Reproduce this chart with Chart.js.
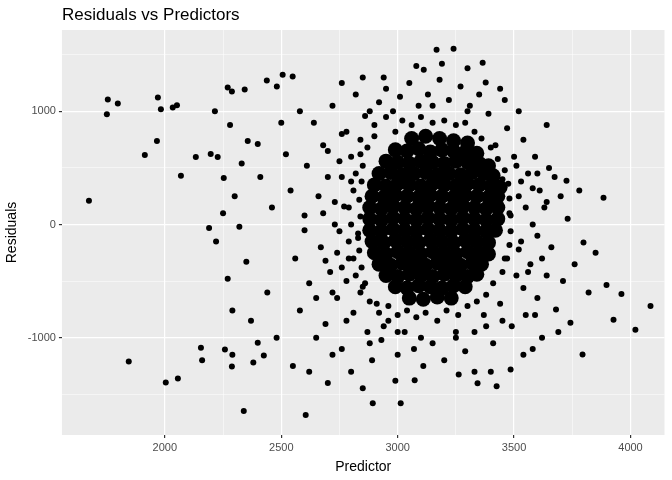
<!DOCTYPE html>
<html>
<head>
<meta charset="utf-8">
<script src="https://cdn.jsdelivr.net/npm/chart.js@4"></script>
<style>
body { margin: 0; background: #fff; }
#wrap { width: 672px; height: 480px; position: relative; }
#title { position: absolute; left: 62px; top: 5px; font: 17px "Liberation Sans", Arial, sans-serif; color: #000; }
</style>
</head>
<body>
<div id="wrap"><div id="title">Residuals vs Predictors</div><canvas id="chart" width="672" height="480"></canvas></div>
<script>
// sparse points
const outliers = [
  [1674,210],[1751,974],[1755,1105],[1798,1070],[1914,614],[1966,737],[1970,1123],[1983,1018],
  [2034,1035],[2052,1053],[2069,430],[1845,-1210],[2004,-1395],[2056,-1360],[2133,596],[2197,623],
  [2215,1000],[2227,596],[2253,412],[2270,1210],[2288,1175],[2343,1193],[2356,737],[2399,711],
  [2438,1272],[2481,1219],[2506,1324],[2549,1307],[2339,-1649],[2605,-1684],[2155,-1088],[2258,-1105],
  [2288,-1254],[2425,-1158],[2399,-1044],[4086,-719],[4021,-930],[3961,-614],[3927,-842],[3897,-535],
  [3798,-158],[3884,237],[3794,-1149],[3742,-868],[3725,386],[3674,421],[3167,1544],[3240,1553],
  [3112,1368],[3365,1430],[3378,1254],[3013,-1579],[2893,-1579],[2850,-1447],[3073,-1377],[3262,-1325],
  [3343,-1403],[3425,-1430],[3485,-1281],[2270,-480],[2290,-760],[2250,100],[2300,250],[2320,-20],
  [2350,-330],[2370,-850],[2290,-1150],[2410,420],[2440,-600],[2460,150],[2480,-1000],[2330,540],
  [2280,880],[2220,-150],[2380,-1220],[2500,900],[2160,-1200],[2190,-30]
];
// medium density band around the core
const ring = [
  [2520,620],[2540,300],[2560,-300],[2580,-760],[2600,80],[2610,520],[2620,-520],[2640,900],[2650,-1000],
  [2660,250],[2670,-200],[2680,700],[2690,-880],[2700,420],[2710,-420],[2720,1050],[2730,0],[2740,-650],
  [2750,560],[2760,-1100],[2770,160],[2780,820],[2790,-300],[2800,380],[2810,-780],[2820,1150],[2830,-120],
  [2840,620],[2850,-550],[2860,960],[2870,-950],[2880,250],[2890,-1200],[2900,780],[2910,-700],[2920,1080],
  [2930,-1020],[2950,1200],[2960,-850],[2980,1000],[3000,-1150],[3010,1130],[3030,-950],[3050,1250],
  [3070,-1100],[3090,1050],[3110,-1250],[3130,1150],[3150,-1050],[3180,1280],[3200,-1200],[3220,1100],
  [3250,-1000],[3270,1220],[3290,-1120],[3310,1050],[3330,-950],[3350,1150],[3370,-800],[3390,980],
  [3410,-1050],[3420,700],[3440,-700],[3450,400],[3460,-300],[3470,850],[3480,100],[3490,-900],[3500,600],
  [3510,-450],[3520,250],[3530,-150],[3540,750],[3550,-800],[3560,450],[3570,-350],[3580,0],[3590,600],
  [3600,-650],[3610,300],[3620,-1000],[3630,150],[3640,-450],[3650,500],[3660,-200],[3680,-750],
  [3700,250],[3710,-500],[3730,50],[3760,-350],[3780,300],[3820,-600],[3850,-250],[2550,-1250],
  [2580,1000],[2620,-1300],[2700,-1400],[2760,1250],[2800,-1300],[2940,1300],[2990,-1380],[3080,1400],
  [3190,1420],[3300,1380],[3330,-1300],[3440,1200],[3520,1000],[3580,-1100],[3640,880],[3690,-950],
  [2600,-50],[2650,-650],[2720,-1150],[2780,-500],[2850,1300],[3400,-1300],[3460,1100],[3540,-1150]
];
// dense fringe just outside the core
const fringe = [
  [2800,600],[2820,450],[2810,300],[2790,150],[2800,0],[2790,-150],[2810,-300],[2820,-450],[2840,-600],
  [2840,750],[2850,520],[2845,380],[2835,220],[2840,70],[2830,-80],[2835,-230],[2845,-380],[2860,-520],
  [2870,680],[2880,-680],[2900,880],[2920,-780],[2950,950],[2960,-720],[2990,820],[3000,-800],[3020,920],
  [3040,-760],[3060,880],[3080,-820],[3100,950],[3120,-780],[3150,900],[3170,-850],[3200,920],[3210,-760],
  [3250,880],[3260,-800],[3290,900],[3300,-720],[3330,820],[3340,-680],[3360,760],[3380,-620],[3400,680],
  [3410,-520],[3430,580],[3450,-420],[3460,480],[3470,-300],[3475,360],[3480,-180],[3480,230],[3485,-60],
  [3485,80],[3510,520],[3520,-220],[3530,380],[3540,-560],[3550,150],[3560,-420],[3580,320],[3600,-100],
  [2760,420],[2750,-60],[2760,-380],[2730,200],[2740,-250],[2700,650],[2720,-600],[2680,100],[2690,-320],
  [3620,-300],[3640,200],[3600,450],[3590,-800],[2760,800],[2780,-850],[2880,1000],[3150,1050],[3300,1000],
  [3450,-850],[3000,-950],[3250,-950],[3100,-1000],[2940,-900],[2880,-1050],[3380,-900]
];
// solid core of the cloud
const core = [
  [3060,760],[3120,780],[3180,760],[3240,740],[3300,720],
  [2990,660],[3040,650],[3090,670],[3140,640],[3190,660],[3240,650],[3290,640],[3340,630],
  [2950,560],[3000,550],[3050,540],[3100,560],[3150,550],[3200,540],[3250,560],[3300,550],[3350,540],[3390,520],
  [2920,450],[2970,460],[3020,440],[3070,450],[3120,460],[3170,440],[3220,450],[3270,440],[3320,460],[3370,450],[3410,430],
  [2900,350],[2950,340],[3000,360],[3050,350],[3100,340],[3150,360],[3200,350],[3250,340],[3300,360],[3350,350],[3400,340],[3440,330],
  [2890,250],[2940,240],[2990,260],[3040,250],[3090,240],[3140,260],[3190,250],[3240,240],[3290,260],[3340,250],[3390,240],[3430,250],
  [2880,150],[2930,140],[2980,160],[3030,150],[3080,140],[3130,160],[3180,150],[3230,140],[3280,160],[3330,150],[3380,140],[3430,150],
  [2880,50],[2930,40],[2980,60],[3030,50],[3080,40],[3130,60],[3180,50],[3230,40],[3280,60],[3330,50],[3380,40],[3430,50],
  [2880,-50],[2930,-60],[2980,-40],[3030,-50],[3080,-60],[3130,-40],[3180,-50],[3230,-60],[3280,-40],[3330,-50],[3380,-60],[3420,-50],
  [2890,-150],[2940,-160],[2990,-140],[3040,-150],[3090,-160],[3140,-140],[3190,-150],[3240,-160],[3290,-140],[3340,-150],[3390,-160],
  [2900,-250],[2950,-260],[3000,-240],[3050,-250],[3100,-260],[3150,-240],[3200,-250],[3250,-260],[3300,-240],[3350,-250],[3390,-260],
  [2920,-350],[2970,-360],[3020,-340],[3070,-350],[3120,-360],[3170,-340],[3220,-350],[3270,-360],[3320,-340],[3360,-350],
  [2950,-450],[3000,-460],[3050,-440],[3100,-450],[3150,-460],[3200,-440],[3250,-450],[3300,-460],[3340,-440],
  [2990,-550],[3040,-560],[3090,-540],[3140,-550],[3190,-560],[3240,-540],[3290,-550],
  [3050,-650],[3110,-660],[3170,-640],[3230,-650]
];
const xTicks = [2000, 2500, 3000, 3500, 4000];
const yTicks = [-1000, 0, 1000];

const toPts = a => a.map(p => ({ x: p[0], y: p[1] }));

const bgPlugin = {
  id: 'bg',
  beforeDraw(c) {
    const a = c.chartArea, ctx = c.ctx;
    ctx.save();
    ctx.fillStyle = '#EBEBEB';
    ctx.fillRect(a.left, a.top, a.right - a.left, a.bottom - a.top);
    ctx.restore();
  }
};

const gridW = (ticks) => (ctx) => {
  const v = ctx.tick && ctx.tick.value;
  return ticks.includes(v) ? 1.2 : 0.5;
};
const tickC = (ticks) => (ctx) => {
  const v = ctx.tick && ctx.tick.value;
  return ticks.includes(v) ? '#333' : 'rgba(0,0,0,0)';
};

new Chart(document.getElementById('chart'), {
  type: 'scatter',
  data: {
    datasets: [
      { data: toPts(core), pointRadius: 7.5, backgroundColor: '#000', borderWidth: 0 },
      { data: toPts(fringe), pointRadius: 3, backgroundColor: '#000', borderWidth: 0 },
      { data: toPts(ring), pointRadius: 3, backgroundColor: '#000', borderWidth: 0 },
      { data: toPts(outliers), pointRadius: 3, backgroundColor: '#000', borderWidth: 0 }
    ]
  },
  plugins: [bgPlugin],
  options: {
    responsive: false,
    animation: false,
    layout: { padding: { top: 30, right: 7, left: 0, bottom: 0 } },
    plugins: { legend: { display: false }, tooltip: { enabled: false } },
    scales: {
      x: {
        min: 1558, max: 4146,
        afterBuildTicks: ax => { ax.ticks = [2250, 2750, 3250, 3750].concat(xTicks).map(v => ({ value: v })); },
        grid: { color: '#fff', lineWidth: gridW(xTicks), tickColor: tickC(xTicks), tickLength: 3 },
        border: { display: false },
        ticks: { color: '#4D4D4D', font: { size: 11, family: 'Liberation Sans' },
          callback: v => xTicks.includes(v) ? v : '' },
        title: { display: true, text: 'Predictor', color: '#000', font: { size: 14, family: 'Liberation Sans' }, padding: { top: 2 } }
      },
      y: {
        min: -1860, max: 1719,
        afterBuildTicks: ax => { ax.ticks = [-1500, -500, 500, 1500].concat(yTicks).map(v => ({ value: v })); },
        grid: { color: '#fff', lineWidth: gridW(yTicks), tickColor: tickC(yTicks), tickLength: 3 },
        border: { display: false },
        ticks: { color: '#4D4D4D', font: { size: 11, family: 'Liberation Sans' },
          callback: v => yTicks.includes(v) ? v : '' },
        title: { display: true, text: 'Residuals', color: '#000', font: { size: 14, family: 'Liberation Sans' } }
      }
    }
  }
});
</script>
</body>
</html>
